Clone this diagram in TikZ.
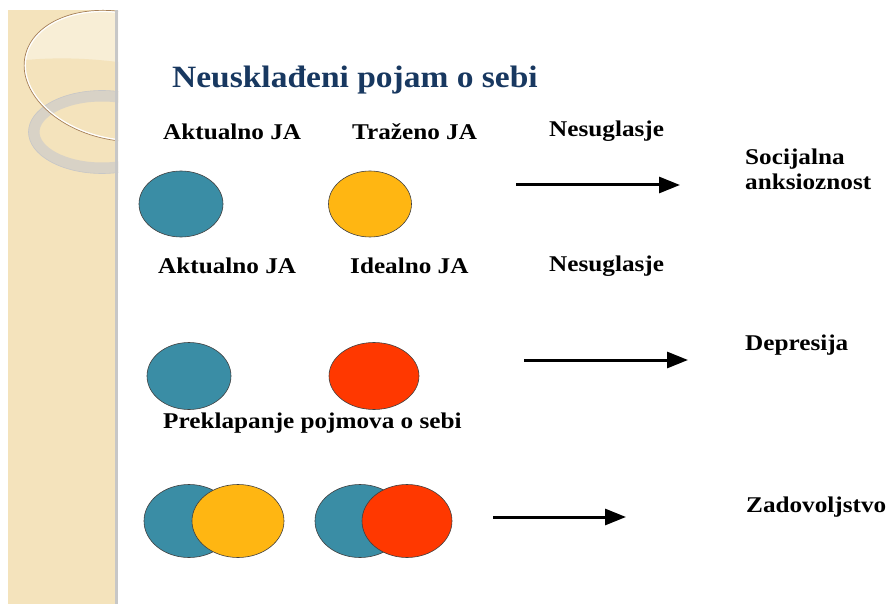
\documentclass[tikz,border=0pt]{standalone}
\usepackage{fontspec}
\setmainfont{Liberation Serif}
\newfontfamily\widebold[FakeStretch=1.12]{Liberation Serif Bold}
\newfontfamily\titlebold[FakeStretch=1.08]{Liberation Serif Bold}
\usetikzlibrary{shapes.geometric,arrows.meta}
\definecolor{tealc}{RGB}{58,141,165}
\definecolor{yellowc}{RGB}{255,182,18}
\definecolor{redc}{RGB}{255,56,0}
\definecolor{titleblue}{RGB}{24,56,96}
\definecolor{stripc}{RGB}{244,227,188}
\definecolor{stripl}{RGB}{248,238,214}
\definecolor{ringc}{RGB}{216,210,198}
\tikzset{
  blob/.style={ellipse, draw=black!75, line width=0.6pt, inner sep=0pt},
  lbl/.style={anchor=base west, inner sep=0pt, font=\widebold\fontsize{22.5}{24}\selectfont},
  ttl/.style={anchor=base west, inner sep=0pt, text=titleblue, font=\titlebold\fontsize{31}{33}\selectfont},
  arr/.style={line width=3pt, -{Triangle[length=21pt, width=16pt]}}
}
\begin{document}
\begin{tikzpicture}[x=1pt,y=-1pt]
\useasboundingbox (0,0) rectangle (889,604);
\fill[white] (0,0) rectangle (889,604);
% decorative strip
\begin{scope}
\clip (8,10) rectangle (118,604);
\fill[stripc] (8,10) rectangle (118,604);
\fill[stripl, rotate around={-12:(118,76)}] (118,76) ellipse (94pt and 63pt);
\fill[stripc] (8,62) .. controls (60,55) and (100,60) .. (118,62) -- (118,200) -- (8,200) -- cycle;
\draw[ringc, line width=11pt] (102,132) ellipse (68pt and 36pt);
\draw[black!22, line width=0.6pt] (102,132) ellipse (73.5pt and 41.5pt);
\draw[white, line width=1.6pt, rotate around={-12:(118,76)}] (118,76) ellipse (94pt and 63pt);
\draw[brown!60!gray, line width=0.7pt, rotate around={-12:(118,76)}] (118,76) ellipse (95pt and 64pt);
\fill[black!22] (115,10) rectangle (118,604);
\end{scope}
% title
\node[ttl] (title) at (172,88) {Neusklađeni pojam o sebi};
% row 1
\node[lbl] (a1) at (163,140) {Aktualno JA};
\node[lbl] (t1) at (352,140) {Traženo JA};
\node[lbl] (n1) at (549,137) {Nesuglasje};
\node[lbl] (s1) at (745,165) {Socijalna};
\node[lbl] (s2) at (745,190) {anksioznost};
\node[blob, fill=tealc, minimum width=84pt, minimum height=66pt] (e1) at (181,204) {};
\node[blob, fill=yellowc, minimum width=83pt, minimum height=66pt] (e2) at (370,204) {};
\coordinate (r1s) at (516,185);
\coordinate (r1e) at (680,185);
\draw[arr] (r1s) -- (r1e);
% row 2
\node[lbl] (a2) at (158,273) {Aktualno JA};
\node[lbl] (i2) at (350,273) {Idealno JA};
\node[lbl] (n2) at (549,271) {Nesuglasje};
\node[lbl] (d2) at (745,350) {Depresija};
\node[blob, fill=tealc, minimum width=84pt, minimum height=67pt] (e3) at (189,376) {};
\node[blob, fill=redc, minimum width=90pt, minimum height=67pt] (e4) at (374,376) {};
\coordinate (r2s) at (524,360);
\coordinate (r2e) at (688,360);
\draw[arr] (r2s) -- (r2e);
% row 3
\node[lbl] (p3) at (163,428) {Preklapanje pojmova o sebi};
\node[lbl] (z3) at (746,512) {Zadovoljstvo};
\node[blob, fill=tealc, minimum width=90pt, minimum height=73pt] (e5) at (189,521) {};
\node[blob, fill=yellowc, minimum width=92pt, minimum height=73pt] (e6) at (238,521) {};
\node[blob, fill=tealc, minimum width=90pt, minimum height=73pt] (e7) at (360,521) {};
\node[blob, fill=redc, minimum width=90pt, minimum height=73pt] (e8) at (407,521) {};
\coordinate (r3s) at (493,517);
\coordinate (r3e) at (626,517);
\draw[arr] (r3s) -- (r3e);
\end{tikzpicture}
\end{document}
